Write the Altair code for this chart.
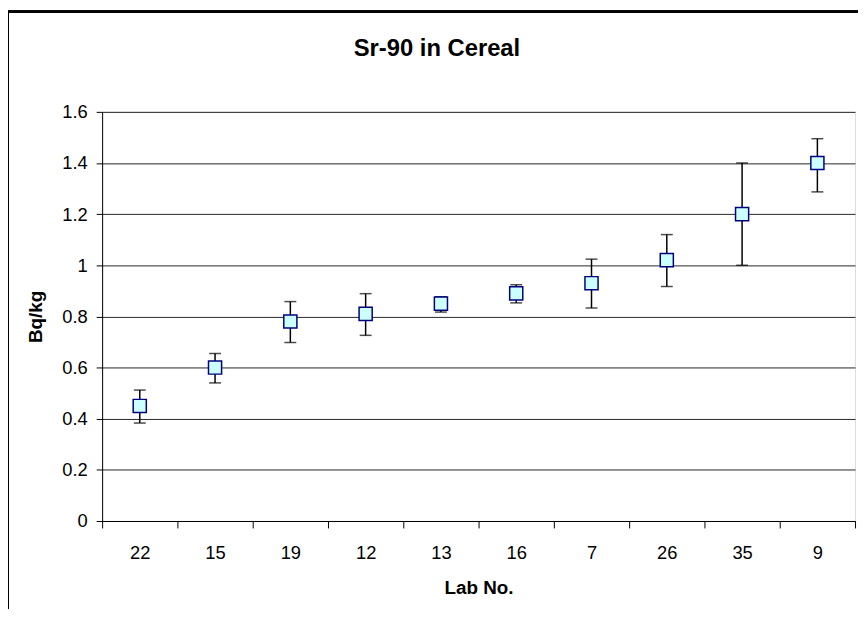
import altair as alt
import pandas as pd

labs = ["22", "15", "19", "12", "13", "16", "7", "26", "35", "9"]
values = [0.45, 0.60, 0.78, 0.81, 0.85, 0.89, 0.93, 1.02, 1.20, 1.40]
lows = [0.383, 0.540, 0.698, 0.726, 0.817, 0.853, 0.833, 0.917, 1.00, 1.287]
highs = [0.512, 0.655, 0.858, 0.889, 0.877, 0.924, 1.024, 1.12, 1.40, 1.495]
chart_title = "Sr-90 in Cereal"

df = pd.DataFrame({"lab": labs, "value": values, "low": lows, "high": highs})

FONT = "Liberation Sans"

x_enc = alt.X(
    "lab:N",
    sort=labs,
    scale=alt.Scale(paddingInner=0, paddingOuter=0),
    axis=alt.Axis(
        title="Lab No.",
        labelAngle=0,
        tickBand="extent",
        tickSize=7,
        tickColor="black",
        domainColor="black",
        labelFont=FONT,
        labelFontSize=18.5,
        labelColor="black",
        labelPadding=16,
        titleFont=FONT,
        titleFontSize=19,
        titleFontWeight="bold",
        titleColor="black",
        titlePadding=17,
        grid=False,
    ),
)

y_scale = alt.Scale(domain=[0, 1.6], nice=False)
y_axis = alt.Axis(
    title="Bq/kg",
    values=[0, 0.2, 0.4, 0.6, 0.8, 1.0, 1.2, 1.4, 1.6],
    format="~g",
    tickSize=6,
    tickColor="black",
    domainColor="black",
    gridColor="black",
    gridOpacity=0.85,
    labelFont=FONT,
    labelFontSize=18.5,
    labelColor="black",
    labelPadding=9,
    titleFont=FONT,
    titleFontSize=19,
    titleFontWeight="bold",
    titleColor="black",
    titlePadding=16,
)

base = alt.Chart(df)

rules = base.mark_rule(color="black", strokeWidth=1.5).encode(
    x=x_enc,
    y=alt.Y("low:Q", scale=y_scale, axis=y_axis),
    y2="high:Q",
)
cap_low = base.mark_tick(color="black", size=12, thickness=1.5).encode(
    x=alt.X("lab:N", sort=labs), y=alt.Y("low:Q")
)
cap_high = base.mark_tick(color="black", size=12, thickness=1.5).encode(
    x=alt.X("lab:N", sort=labs), y=alt.Y("high:Q")
)
points = base.mark_point(
    shape="square", filled=True, fill="#CCFFFF", stroke="#000080",
    strokeWidth=1.5, size=175, opacity=1,
).encode(x=alt.X("lab:N", sort=labs), y=alt.Y("value:Q"))

title_mark = alt.Chart(pd.DataFrame({"t": [chart_title]})).mark_text(
    font=FONT, fontSize=24, fontWeight="bold", color="black",
    align="center", baseline="middle",
).encode(x=alt.value(338), y=alt.value(-63), text="t:N")

frame_top = base.mark_rule(color="black", strokeWidth=2).encode(
    x=alt.value(-95), x2=alt.value(780), y=alt.value(-101)
)
frame_left = base.mark_rule(color="black", strokeWidth=2).encode(
    x=alt.value(-95), y=alt.value(-101), y2=alt.value(520)
)

chart = (
    alt.layer(rules, cap_low, cap_high, points, title_mark, frame_top, frame_left)
    .properties(
        width=760,
        height=413,
        autosize=alt.AutoSizeParams(type="none"),
        padding={"left": 95, "top": 102, "right": 3, "bottom": 86},
    )
    .configure_view(stroke="#808080", strokeWidth=1)
    .configure(background="white")
)

chart.save("out.html", embed_options={"renderer": "svg", "actions": False})
